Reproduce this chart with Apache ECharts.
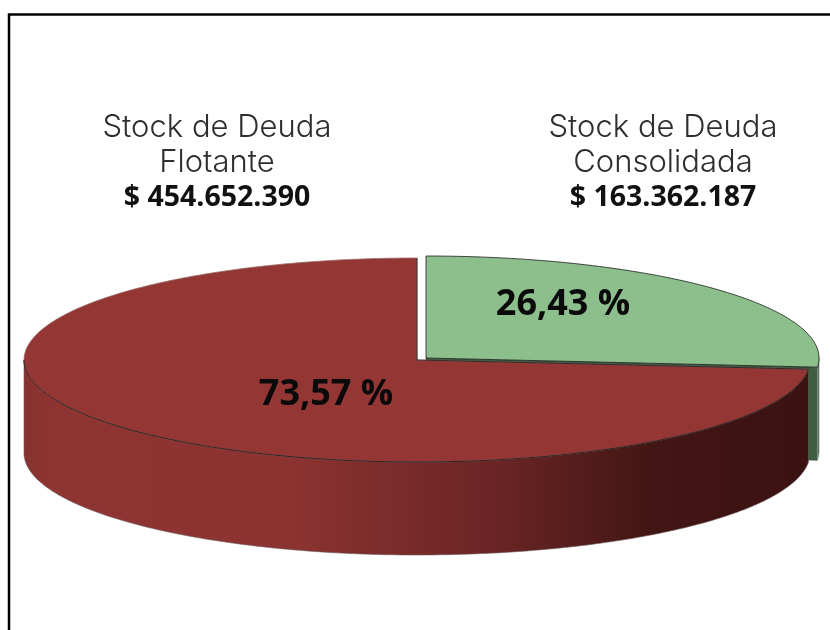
<!DOCTYPE html>
<html><head><meta charset="utf-8">
<style>html,body{margin:0;padding:0;background:#fff}#c{width:830px;height:630px}</style>
<script src="https://cdn.jsdelivr.net/npm/echarts@6/dist/echarts.min.js"></script>
</head><body><div id="c"></div>
<script>
const labelLines = [["Stock de Deuda", "Consolidada"], ["Stock de Deuda", "Flotante"]];
const amounts = [163362187, 454652390];
const amountLabels = ["$ 163.362.187", "$ 454.652.390"];
const percentLabels = ["26,43 %", "73,57 %"];

const topColors = ["#8cbf8c", "#933634"];
const edge = "#1c1c1c";
const FONT_REG = "Inter, Lato, sans-serif";
const FONT_BOLD = "'Open Sans', Lato, sans-serif";
const geo = [{cx: 426, cy: 358}, {cx: 417, cy: 360}];
const RX = 393, RY = 102, DEPTH = 93;
const labelX = [663, 217];
const pctPos = [[563, 305], [326, 395]];
const total = amounts.reduce((a, b) => a + b, 0);

function pt(g, a, dy) { return [g.cx + RX * Math.sin(a), g.cy - RY * Math.cos(a) + (dy || 0)]; }
function arc(g, a0, a1, dy) {
  const n = Math.max(2, Math.ceil(Math.abs(a1 - a0) / 0.01)), out = [];
  for (let i = 0; i <= n; i++) out.push(pt(g, a0 + (a1 - a0) * i / n, dy));
  return out;
}
function renderItem(params, api) {
  const i = params.dataIndex;
  let before = 0;
  for (let k = 0; k < i; k++) before += amounts[k];
  const a0 = before / total * 2 * Math.PI;
  const a1 = (before + api.value(0)) / total * 2 * Math.PI;
  const g = geo[i], children = [];
  if (i === 0) {
    const e = pt(g, a1);
    children.push({type: "polygon", shape: {points: [[g.cx, g.cy], e, [e[0], e[1] + DEPTH], [g.cx, g.cy + DEPTH]]},
      style: {fill: "#3f5e42", stroke: "#2a3f2c", lineWidth: 0.6}});
    const top = arc(g, Math.PI / 2, a1), bot = arc(g, a1, Math.PI / 2, DEPTH);
    children.push({type: "polygon", shape: {points: top.concat(bot)},
      style: {fill: "#3f5e42", stroke: "#8a948b", lineWidth: 0.8}});
  } else {
    const start = a0, end = 1.5 * Math.PI;
    const top = arc(g, start, end), bot = arc(g, end, start, DEPTH);
    children.push({type: "polygon", shape: {points: top.concat(bot)},
      style: {
        fill: new echarts.graphic.LinearGradient(0, 0, 1, 0, [
          {offset: 0, color: "#873230"}, {offset: 0.04, color: "#8e3432"},
          {offset: 0.34, color: "#8c3331"}, {offset: 0.6, color: "#6a2524"},
          {offset: 0.8, color: "#421614"}, {offset: 1, color: "#3b1212"}]),
        stroke: "#6a5a5a", lineWidth: 0.6}});
  }
  const slice = [[g.cx, g.cy]].concat(arc(g, a0, a1));
  children.push({type: "polygon", shape: {points: slice},
    style: {fill: topColors[i], stroke: i === 0 ? edge : "#9a6a68", lineWidth: 0.8}});
  if (i === 1) {
    children.push({type: "polyline", shape: {points: [pt(g, a0), [g.cx, g.cy], pt(g, 2 * Math.PI)]},
      style: {fill: "none", stroke: edge, lineWidth: 0.8}});
    children.push({type: "polyline", shape: {points: arc(g, a0, 1.5 * Math.PI)},
      style: {fill: "none", stroke: edge, lineWidth: 0.9}});
  }
  return {type: "group", children};
}

const chart = echarts.init(document.getElementById("c"), null, {renderer: "canvas"});
const texts = [];
labelX.forEach((x, i) => {
  labelLines[i].forEach((t, j) => texts.push({type: "text", z: 10, style: {
    x, y: 128 + 35 * j, text: t, align: "center", verticalAlign: "middle",
    font: "300 31px " + FONT_REG, fill: "#2e2e2e"}}));
  texts.push({type: "text", z: 10, style: {
    x, y: 198, text: amountLabels[i], align: "center", verticalAlign: "middle",
    font: "700 28.5px " + FONT_BOLD, fill: "#111"}});
  texts.push({type: "text", z: 10, style: {
    x: pctPos[i][0], y: pctPos[i][1], text: percentLabels[i], align: "center", verticalAlign: "middle",
    font: "700 36px " + FONT_BOLD, fill: "#0a0a0a"}});
});
chart.setOption({
  animation: false,
  backgroundColor: "#fff",
  graphic: [{type: "rect", z: 0, shape: {x: 9, y: 14.5, width: 900, height: 700},
    style: {fill: "none", stroke: "#000", lineWidth: 2.5}}].concat(texts),
  series: [{type: "custom", coordinateSystem: "none", silent: true, renderItem, data: amounts}]
});
</script></body></html>
